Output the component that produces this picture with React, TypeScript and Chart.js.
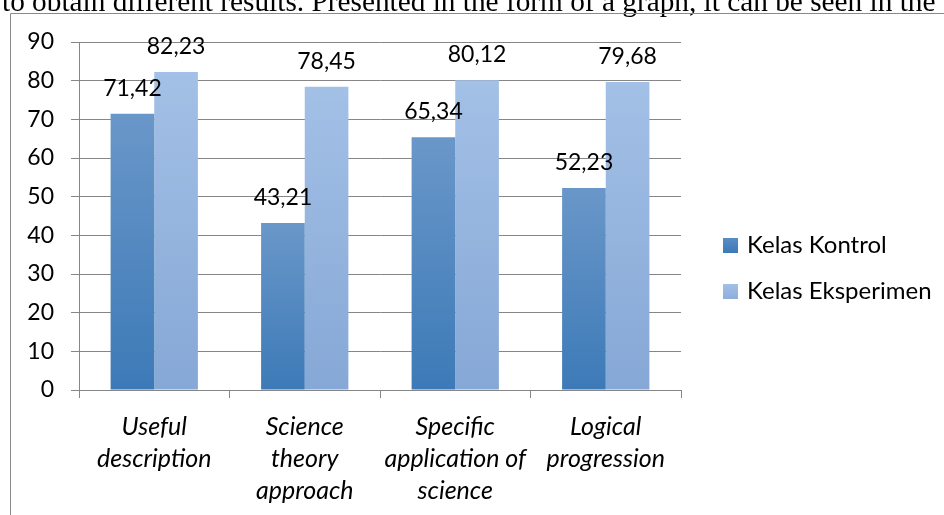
import React, { useEffect, useRef } from "react";
import { Chart, registerables } from "chart.js";

Chart.register(...registerables);

const categories: string[][] = [
  ["Useful", "description"],
  ["Science", "theory", "approach"],
  ["Specific", "application of", "science"],
  ["Logical", "progression"],
];
const kontrolValues = [71.42, 43.21, 65.34, 52.23];
const eksperimenValues = [82.23, 78.45, 80.12, 79.68];
const seriesNames = ["Kelas Kontrol", "Kelas Eksperimen"];
const captionText =
  "to obtain different results. Presented in the form of a graph, it can be seen in the";

const FONT = "Lato, 'Open Sans', sans-serif";
const GRID = "#868686";

const kontrolGrad = ["#6A97C9", "#3C7AB7"];
const eksperimenGrad = ["#A3C0E6", "#86A8D6"];

function barGradient(stops: string[]) {
  return (ctx: any) => {
    const chart = ctx.chart;
    const { chartArea, scales } = chart;
    if (!chartArea || ctx.raw === undefined) return stops[1];
    const top = scales.y.getPixelForValue(ctx.raw);
    const bottom = scales.y.getPixelForValue(0);
    const g = chart.ctx.createLinearGradient(0, top, 0, bottom);
    g.addColorStop(0, stops[0]);
    g.addColorStop(1, stops[1]);
    return g;
  };
}

const decorPlugin = {
  id: "decor",
  beforeDraw(chart: any) {
    const ctx = chart.ctx;
    ctx.save();
    ctx.fillStyle = "#ffffff";
    ctx.fillRect(0, 0, chart.width, chart.height);
    // caption line (cut off at the top)
    ctx.fillStyle = "#000000";
    ctx.font = '29.3px "Liberation Serif", "Times New Roman", serif';
    ctx.textAlign = "left";
    ctx.textBaseline = "alphabetic";
    ctx.fillText(captionText, 2, 11);
    // chart frame
    ctx.strokeStyle = "#8a8a8a";
    ctx.lineWidth = 1;
    ctx.beginPath();
    ctx.moveTo(10.5, chart.height);
    ctx.lineTo(10.5, 13.5);
    ctx.lineTo(chart.width, 13.5);
    ctx.stroke();
    ctx.restore();
  },
  afterDatasetsDraw(chart: any) {
    const ctx = chart.ctx;
    ctx.save();
    ctx.fillStyle = "#000000";
    ctx.font = `23px ${FONT}`;
    ctx.textAlign = "center";
    ctx.textBaseline = "alphabetic";
    chart.data.datasets.forEach((ds: any, i: number) => {
      const meta = chart.getDatasetMeta(i);
      meta.data.forEach((el: any, j: number) => {
        const v = ds.data[j] as number;
        ctx.fillText(v.toFixed(2).replace(".", ","), el.x, el.y - 18);
      });
    });
    // legend
    const legendY = [245, 291];
    const legendGrads = [
      ["#5A8CC4", "#3C7AB7"],
      ["#A3C0E6", "#8EAEDB"],
    ];
    ctx.textAlign = "left";
    ctx.textBaseline = "middle";
    ctx.font = `24px ${FONT}`;
    seriesNames.forEach((name, i) => {
      const y = legendY[i];
      const g = ctx.createLinearGradient(0, y - 7, 0, y + 8);
      g.addColorStop(0, legendGrads[i][0]);
      g.addColorStop(1, legendGrads[i][1]);
      ctx.fillStyle = g;
      ctx.fillRect(723, y - 7, 15, 15);
      ctx.fillStyle = "#000000";
      ctx.fillText(name, 747, y);
    });
    ctx.restore();
  },
};

export default function App() {
  const canvasRef = useRef<HTMLCanvasElement | null>(null);

  useEffect(() => {
    if (!canvasRef.current) return;
    const chart = new Chart(canvasRef.current, {
      type: "bar",
      data: {
        labels: categories,
        datasets: [
          {
            label: seriesNames[0],
            data: kontrolValues,
            backgroundColor: barGradient(kontrolGrad),
            borderWidth: 0,
            categoryPercentage: 0.58,
            barPercentage: 1,
          },
          {
            label: seriesNames[1],
            data: eksperimenValues,
            backgroundColor: barGradient(eksperimenGrad),
            borderWidth: 0,
            categoryPercentage: 0.58,
            barPercentage: 1,
          },
        ],
      },
      options: {
        responsive: false,
        animation: false,
        devicePixelRatio: 1,
        layout: { padding: { left: 0, top: 42, right: 263, bottom: 0 } },
        plugins: {
          legend: { display: false },
          tooltip: { enabled: false },
        },
        scales: {
          x: {
            afterFit: (s: any) => {
              s.height = 125;
            },
            grid: {
              display: true,
              drawOnChartArea: false,
              drawTicks: true,
              tickLength: 8,
              color: GRID,
              offset: true,
            },
            border: { display: true, color: GRID },
            ticks: {
              color: "#000000",
              padding: 13,
              maxRotation: 0,
              autoSkip: false,
              font: { family: FONT, size: 25, style: "italic", lineHeight: 32 / 25 },
            },
          },
          y: {
            min: 0,
            max: 90,
            afterFit: (s: any) => {
              s.width = 79;
            },
            grid: {
              color: GRID,
              tickLength: 8,
              drawTicks: true,
            },
            border: { display: true, color: GRID },
            ticks: {
              stepSize: 10,
              color: "#000000",
              padding: 17,
              font: { family: FONT, size: 23 },
            },
          },
        },
      },
      plugins: [decorPlugin],
    });
    return () => chart.destroy();
  }, []);

  return (
    <div
      style={{
        position: "fixed",
        left: 0,
        top: 0,
        width: 944,
        height: 515,
        overflow: "hidden",
        background: "#fff",
      }}
    >
      <canvas ref={canvasRef} width={944} height={515} style={{ display: "block" }} />
    </div>
  );
}
